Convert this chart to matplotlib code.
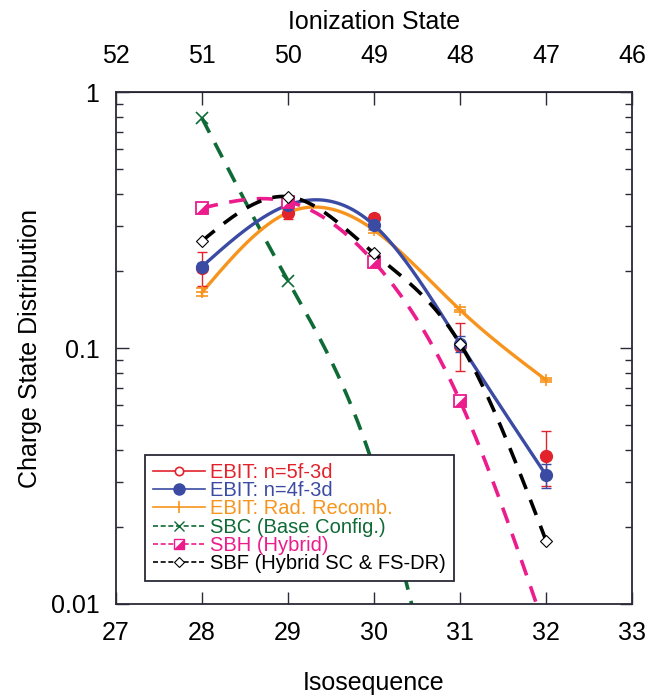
import numpy as np
import matplotlib
matplotlib.use("Agg")
import matplotlib.pyplot as plt
from matplotlib.lines import Line2D
from matplotlib.legend_handler import HandlerTuple

plt.rcParams['font.family'] = ['Liberation Sans', 'DejaVu Sans']

# ---------------- data ----------------
iso = [28, 29, 30, 31, 32]
ion_ticks = [27, 28, 29, 30, 31, 32, 33]
ion_labels = ['52', '51', '50', '49', '48', '47', '46']

ebit_5f = [0.205, 0.338, 0.321, 0.102, 0.038]
ebit_5f_lo = [0.031, 0.018, 0.010, 0.021, 0.009]
ebit_5f_hi = [0.033, 0.018, 0.012, 0.023, 0.0095]

ebit_4f = [0.208, 0.362, 0.302, 0.104, 0.0319]
ebit_4f_err = [0.006, 0.006, 0.006, 0.0075, 0.0034]

ebit_rr = [0.165, 0.338, 0.289, 0.141, 0.075]
ebit_rr_err = [0.006, 0.010, 0.008, 0.003, 0.0015]

sbc_x = [28, 29, 30, 31]
sbc = [0.79, 0.183, 0.034, 0.0015]

sbh = [0.352, 0.373, 0.217, 0.0622, 0.0078]
sbf = [0.262, 0.390, 0.234, 0.104, 0.0177]

labels = ['EBIT: n=5f-3d', 'EBIT: n=4f-3d', 'EBIT: Rad. Recomb.',
          'SBC (Base Config.)', 'SBH (Hybrid)', 'SBF (Hybrid SC & FS-DR)']

# ---------------- colours ----------------
RED = '#e3232c'
BLUE = '#3b4ba3'
ORANGE = '#f7941d'
GREEN = '#0f6b36'
PINK = '#ec1c8c'
BLACK = '#000000'
AXC = '#2a2a38'


def natural_spline(x, y, xs):
    x = np.asarray(x, float)
    y = np.asarray(y, float)
    n = len(x)
    h = np.diff(x)
    A = np.zeros((n, n))
    b = np.zeros(n)
    A[0, 0] = 1
    A[-1, -1] = 1
    for i in range(1, n - 1):
        A[i, i - 1] = h[i - 1]
        A[i, i] = 2 * (h[i - 1] + h[i])
        A[i, i + 1] = h[i]
        b[i] = 3 * ((y[i + 1] - y[i]) / h[i] - (y[i] - y[i - 1]) / h[i - 1])
    c = np.linalg.solve(A, b)
    out = np.empty_like(xs)
    for j, xv in enumerate(xs):
        i = min(max(np.searchsorted(x, xv) - 1, 0), n - 2)
        dx = xv - x[i]
        bi = (y[i + 1] - y[i]) / h[i] - h[i] * (2 * c[i] + c[i + 1]) / 3
        di = (c[i + 1] - c[i]) / (3 * h[i])
        out[j] = y[i] + bi * dx + c[i] * dx ** 2 + di * dx ** 3
    return out


def smooth(x, y):
    xs = np.linspace(min(x), max(x), 300)
    ys = 10 ** natural_spline(x, np.log10(y), xs)
    return xs, ys


fig = plt.figure(figsize=(6.5, 6.96), dpi=100)
ax = fig.add_axes([0.1785, 0.1322, 0.7938, 0.7356])
ax.set_yscale('log')
ax.set_xlim(27, 33)
ax.set_ylim(0.01, 1)

dash = (4.5, 3.2)

# SBC
xs, ys = smooth(sbc_x, sbc)
ax.plot(xs, ys, color=GREEN, lw=2.6, dashes=dash, zorder=2)
ax.plot(sbc_x, sbc, ls='none', marker='x', ms=8, mew=1.2, color=GREEN, zorder=3)

# EBIT RR
xs, ys = smooth(iso, ebit_rr)
ax.plot(xs, ys, color=ORANGE, lw=2.4, zorder=3)
ax.errorbar(iso, ebit_rr, yerr=ebit_rr_err, fmt='+', ms=9, mew=1.2, color=ORANGE,
            ecolor=ORANGE, elinewidth=1, capsize=4, zorder=4)

# EBIT 5f (markers + error bars)
ax.errorbar(iso, ebit_5f, yerr=[ebit_5f_lo, ebit_5f_hi], fmt='o', ms=8.5, color=RED,
            ecolor=RED, elinewidth=1, capsize=3.5, zorder=4)

# EBIT 4f
xs, ys = smooth(iso, ebit_4f)
ax.plot(xs, ys, color=BLUE, lw=2.4, zorder=5)
ax.errorbar(iso, ebit_4f, yerr=ebit_4f_err, fmt='o', ms=8.5, color=BLUE,
            ecolor=BLUE, elinewidth=1, capsize=3.5, zorder=6)

# SBH
tri = [(1, -1), (1, 1), (-1, -1), (1, -1)]
xs, ys = smooth(iso, sbh)
ax.plot(xs, ys, color=PINK, lw=2.6, dashes=dash, zorder=6)
ax.plot(iso, sbh, ls='none', marker='s', ms=8, mfc='white', mec=PINK, mew=1.3, zorder=7)
ax.plot(iso, sbh, ls='none', marker=tri, ms=8, mfc=PINK, mec=PINK, mew=0.5, zorder=7)

# SBF
xs, ys = smooth(iso, sbf)
ax.plot(xs, ys, color=BLACK, lw=2.6, dashes=dash, zorder=8)
ax.plot(iso, sbf, ls='none', marker='D', ms=6, mfc='white', mec=BLACK, mew=0.8, zorder=9)

# axes styling
FS = 18
ax.set_xticks([27, 28, 29, 30, 31, 32, 33])
ax.set_yticks([0.01, 0.1, 1])
ax.set_yticklabels(['0.01', '0.1', '1'])
ax.tick_params(axis='both', which='major', direction='in', length=9, width=1,
               labelsize=FS, top=False, right=True, color=AXC)
ax.tick_params(axis='x', which='major', pad=12)
ax.tick_params(axis='y', which='major', pad=12)
ax.tick_params(axis='y', which='minor', direction='in', length=5, width=1,
               right=True, color=AXC)
ax.tick_params(axis='x', which='minor', bottom=False, top=False)
for s in ax.spines.values():
    s.set_linewidth(1.3)
    s.set_color(AXC)
ax.set_xlabel('Isosequence', fontsize=FS, labelpad=19)
ax.set_ylabel('Charge State Distribution', fontsize=FS, labelpad=6)

top = ax.secondary_xaxis('top')
top.set_xticks(ion_ticks)
top.set_xticklabels(ion_labels)
top.tick_params(direction='in', length=9, width=1, labelsize=FS, pad=17, color=AXC)
top.set_xlabel('Ionization State', fontsize=FS, labelpad=11)

# legend
hd = (3.0, 1.6)
hs = [
    Line2D([], [], color=RED, lw=1.2, marker='o', ms=6, mfc='white', mec=RED, mew=1.2),
    Line2D([], [], color=BLUE, lw=1.2, marker='o', ms=8, mfc=BLUE, mec=BLUE),
    Line2D([], [], color=ORANGE, lw=1.2, marker='|', ms=9, mew=1.2),
    Line2D([], [], color=GREEN, lw=1.2, dashes=hd, marker='x', ms=7, mew=1.0),
    (Line2D([], [], color=PINK, lw=1.2, dashes=hd, marker='s', ms=7, mfc='white', mec=PINK),
     Line2D([], [], ls='none', marker=tri, ms=7, mfc=PINK, mec=PINK, mew=0.5)),
    Line2D([], [], color=BLACK, lw=1.2, dashes=hd, marker='D', ms=5.5, mfc='white', mec=BLACK, mew=0.8),
]
leg = ax.legend(hs, labels, loc='upper left', bbox_to_anchor=(0.056, 0.291),
                fontsize=14.5, frameon=True, fancybox=False, edgecolor=AXC, framealpha=1,
                handlelength=2.6, handletextpad=0.25, labelspacing=-0.04,
                borderpad=0.4, borderaxespad=0,
                handler_map={tuple: HandlerTuple(ndivide=1)})
leg.get_frame().set_linewidth(1.3)
leg.set_zorder(20)
for t, c in zip(leg.get_texts(), [RED, BLUE, ORANGE, GREEN, PINK, BLACK]):
    t.set_color(c)

fig.savefig('out.png', dpi=100)
